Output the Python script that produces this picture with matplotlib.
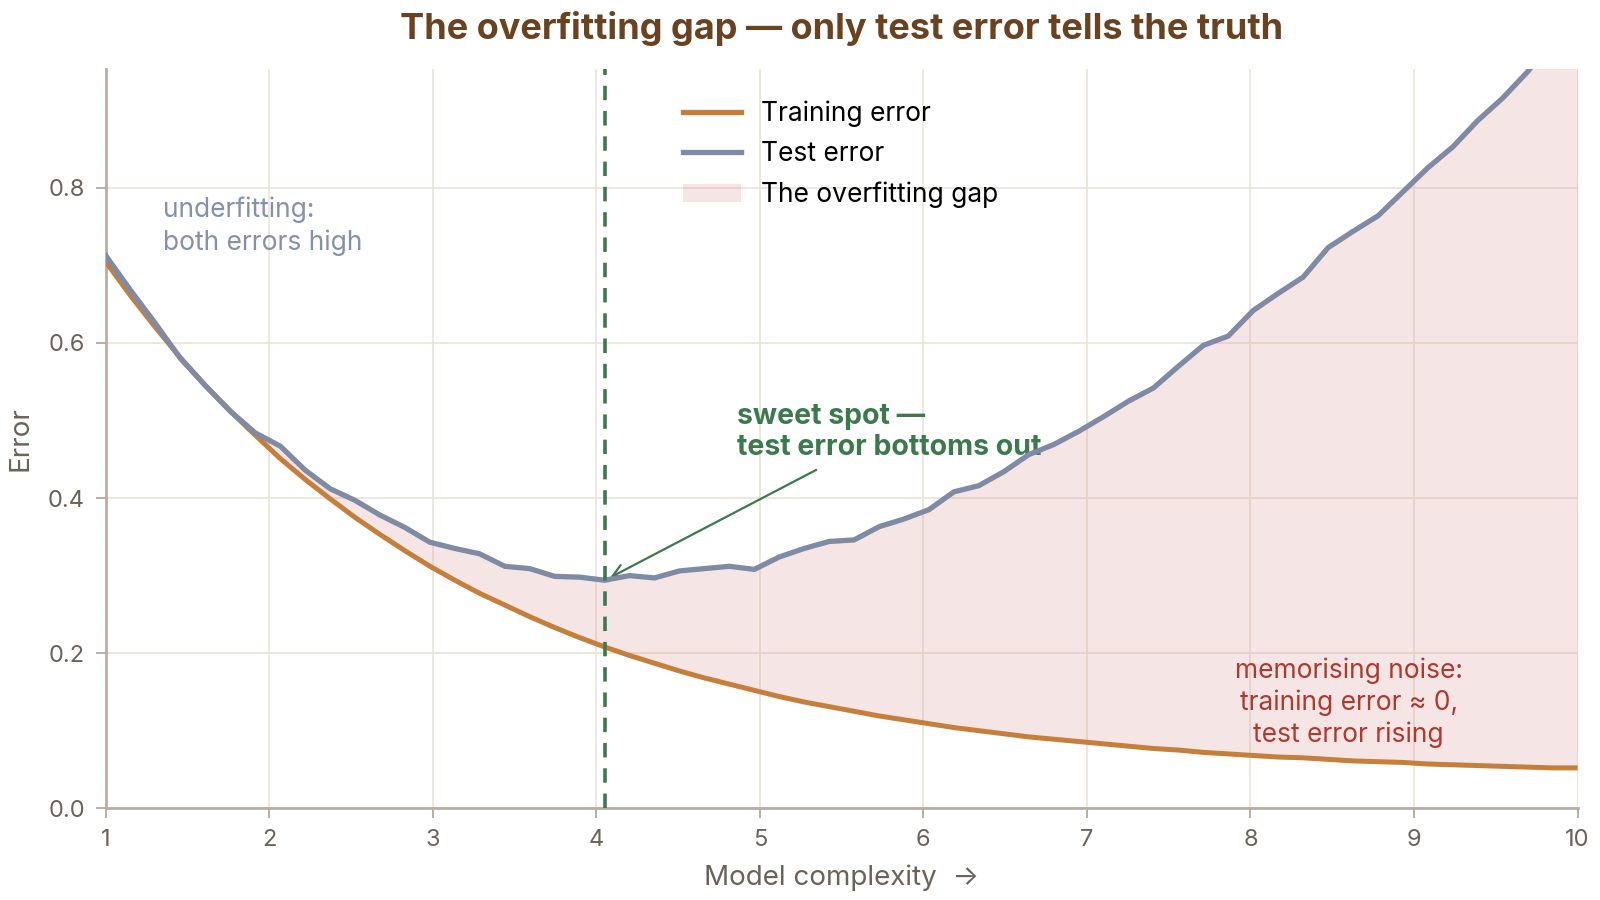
import numpy as np
import matplotlib
matplotlib.use("Agg")
import matplotlib.pyplot as plt
from matplotlib.patches import Patch
from matplotlib.lines import Line2D

plt.rcParams['font.family'] = ['Inter', 'DejaVu Sans']

# Model complexity grid (60 samples between 1 and 10)
complexity = np.linspace(1, 10, 60)

# Values
train_error = [
    0.705, 0.661, 0.620, 0.581, 0.545, 0.512, 0.481, 0.451, 0.424, 0.399,
    0.375, 0.353, 0.332, 0.312, 0.294, 0.277, 0.262, 0.247, 0.233, 0.220,
    0.208, 0.197, 0.187, 0.177, 0.168, 0.160, 0.152, 0.144, 0.137, 0.131,
    0.125, 0.119, 0.114, 0.109, 0.104, 0.100, 0.096, 0.092, 0.089, 0.086,
    0.083, 0.080, 0.077, 0.075, 0.072, 0.070, 0.068, 0.066, 0.065, 0.063,
    0.061, 0.060, 0.059, 0.057, 0.056, 0.055, 0.054, 0.053, 0.052, 0.052,
]
test_error = [
    0.713, 0.668, 0.625, 0.580, 0.545, 0.512, 0.484, 0.467, 0.436, 0.412,
    0.397, 0.378, 0.362, 0.343, 0.335, 0.328, 0.312, 0.309, 0.299, 0.298,
    0.294, 0.300, 0.297, 0.306, 0.309, 0.312, 0.308, 0.324, 0.335, 0.344,
    0.346, 0.363, 0.373, 0.385, 0.408, 0.416, 0.434, 0.456, 0.469, 0.486,
    0.505, 0.525, 0.542, 0.570, 0.597, 0.609, 0.642, 0.664, 0.685, 0.723,
    0.744, 0.764, 0.795, 0.826, 0.853, 0.887, 0.916, 0.950, 0.990, 1.030,
]
x_ticks = [1, 2, 3, 4, 5, 6, 7, 8, 9, 10]
y_ticks = [0.0, 0.2, 0.4, 0.6, 0.8]

# Colours
TRAIN_C = '#c67f3b'
TEST_C = '#7f8aa5'
GAP_C = '#d98c8c'
GREEN = '#3b7a4c'
RED = '#b0392f'
GRID_C = '#ebe6da'
SPINE_C = '#b8aea6'
TEXT_C = '#6b625a'

train = np.array(train_error)
test = np.array(test_error)
best_x = complexity[np.argmin(test)]
best_y = test.min()

fig = plt.figure(figsize=(16, 9), dpi=100)
ax = fig.add_axes([0.066, 0.102, 0.92, 0.821])

ax.fill_between(complexity, train, test, color=GAP_C, alpha=0.22, lw=0, zorder=1)
ax.plot(complexity, train, color=TRAIN_C, lw=3.6, zorder=3, solid_capstyle='butt')
ax.plot(complexity, test, color=TEST_C, lw=3.8, zorder=4, solid_joinstyle='miter')
ax.axvline(best_x, color=GREEN, lw=2.6, ls=(0, (4, 3)), zorder=5)

ax.set_xlim(1, 10)
ax.set_ylim(0, 0.953)
ax.set_xticks(x_ticks)
ax.set_yticks(y_ticks)
ax.set_yticklabels([f'{v:.1f}' for v in y_ticks])
ax.grid(True, color=GRID_C, lw=1.3, zorder=0)
ax.set_axisbelow(True)

for side in ['top', 'right']:
    ax.spines[side].set_visible(False)
for side in ['left', 'bottom']:
    ax.spines[side].set_color(SPINE_C)
    ax.spines[side].set_linewidth(2)
ax.tick_params(colors=TEXT_C, labelsize=17, length=7, width=1.4, color=SPINE_C, pad=8)

ax.set_xlabel('Model complexity  \u2192', fontsize=20, color=TEXT_C, labelpad=10)
ax.set_ylabel('Error', fontsize=20, color=TEXT_C, labelpad=10)
ax.set_title('The overfitting gap \u2014 only test error tells the truth',
             fontsize=26, fontweight='bold', color='#6b4220', pad=22)

# Annotations
ax.text(1.35, 0.789, 'underfitting:\nboth errors high', fontsize=19, color='#8590ab',
        va='top', ha='left', linespacing=1.3)
ax.text(4.86, 0.523, 'sweet spot \u2014\ntest error bottoms out', fontsize=20.5,
        fontweight='bold', color=GREEN, va='top', ha='left', linespacing=1.22)
ax.annotate('', xy=(best_x + 0.02, best_y + 0.002), xytext=(5.36, 0.438),
            arrowprops=dict(arrowstyle='->', color=GREEN, lw=1.6, mutation_scale=22))
ax.text(8.6, 0.136, 'memorising noise:\ntraining error \u2248 0,\ntest error rising',
        fontsize=19, color=RED, va='center', ha='center', linespacing=1.25)

handles = [
    Line2D([0], [0], color=TRAIN_C, lw=3.8),
    Line2D([0], [0], color=TEST_C, lw=3.8),
    Patch(facecolor=GAP_C, alpha=0.22, edgecolor='none'),
]
ax.legend(handles, ['Training error', 'Test error', 'The overfitting gap'],
          loc='upper left', bbox_to_anchor=(0.376, 0.99), frameon=False,
          fontsize=19, handlelength=2.2, handletextpad=0.77, labelspacing=0.55)

fig.savefig('out.png', dpi=100)
